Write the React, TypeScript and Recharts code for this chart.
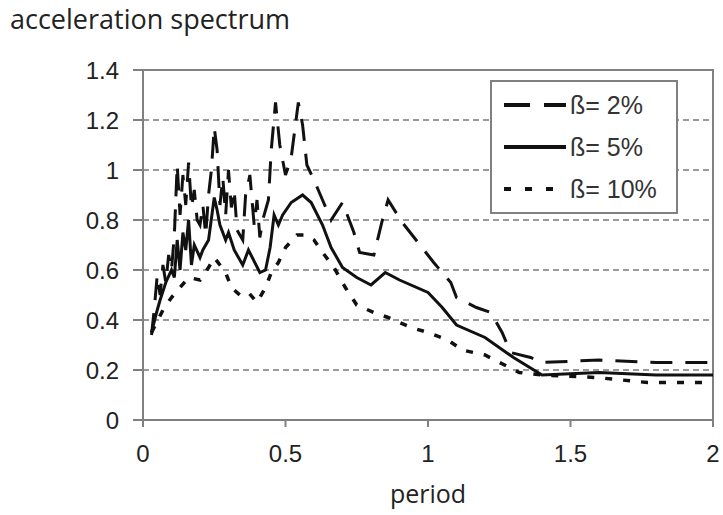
import {
  LineChart,
  Line,
  XAxis,
  YAxis,
  CartesianGrid,
  ReferenceArea,
  Legend,
} from "recharts";

type Pt = { period: number; acc: number };

// [period, acceleration]
const damping2: [number, number][] = [
  [0.03, 0.34], [0.04, 0.45], [0.05, 0.58], [0.06, 0.5], [0.07, 0.62],
  [0.08, 0.55], [0.09, 0.66], [0.1, 0.6], [0.11, 0.74], [0.12, 1.02],
  [0.13, 0.82], [0.14, 0.98], [0.15, 0.86], [0.16, 1.03], [0.17, 0.85],
  [0.18, 0.92], [0.19, 0.8], [0.2, 0.78], [0.21, 0.86], [0.22, 0.74],
  [0.23, 0.9], [0.24, 1.0], [0.25, 1.17], [0.26, 1.08], [0.27, 0.86],
  [0.28, 0.97], [0.29, 0.82], [0.3, 1.0], [0.31, 0.85], [0.32, 0.92],
  [0.33, 0.76], [0.35, 0.72], [0.36, 0.9], [0.375, 0.98], [0.39, 0.78],
  [0.4, 0.88], [0.41, 0.73], [0.42, 0.8], [0.44, 0.88], [0.45, 1.08],
  [0.465, 1.27], [0.48, 1.1], [0.5, 0.98], [0.52, 1.05], [0.545, 1.27],
  [0.56, 1.18], [0.575, 1.02], [0.6, 0.96], [0.63, 0.88], [0.66, 0.8],
  [0.7, 0.87], [0.74, 0.75], [0.76, 0.67], [0.81, 0.66], [0.84, 0.8],
  [0.86, 0.88], [0.91, 0.79], [1.02, 0.63], [1.08, 0.55], [1.1, 0.49],
  [1.17, 0.45], [1.22, 0.43], [1.26, 0.35], [1.29, 0.27], [1.36, 0.25],
  [1.4, 0.23], [1.6, 0.24], [1.8, 0.23], [2.0, 0.23],
];

const damping5: [number, number][] = [
  [0.03, 0.35], [0.05, 0.44], [0.06, 0.48], [0.08, 0.55], [0.1, 0.6],
  [0.11, 0.57], [0.12, 0.72], [0.13, 0.6], [0.14, 0.75], [0.15, 0.68],
  [0.16, 0.8], [0.17, 0.62], [0.18, 0.7], [0.2, 0.65], [0.21, 0.68],
  [0.23, 0.72], [0.25, 0.89], [0.26, 0.84], [0.27, 0.78], [0.29, 0.72],
  [0.3, 0.75], [0.32, 0.68], [0.35, 0.62], [0.37, 0.68], [0.41, 0.59],
  [0.43, 0.6], [0.446, 0.69], [0.46, 0.82], [0.475, 0.78], [0.49, 0.82],
  [0.52, 0.87], [0.56, 0.9], [0.59, 0.87], [0.63, 0.78], [0.66, 0.69],
  [0.7, 0.61], [0.75, 0.57], [0.8, 0.54], [0.85, 0.59], [0.9, 0.56],
  [1.0, 0.51], [1.05, 0.45], [1.1, 0.38], [1.2, 0.33], [1.3, 0.25],
  [1.4, 0.18], [1.6, 0.19], [1.8, 0.18], [2.0, 0.18],
];

const damping10: [number, number][] = [
  [0.03, 0.35], [0.07, 0.44], [0.1, 0.49], [0.13, 0.53], [0.16, 0.57],
  [0.2, 0.56], [0.23, 0.61], [0.25, 0.65], [0.29, 0.59], [0.31, 0.53],
  [0.34, 0.5], [0.37, 0.51], [0.4, 0.47], [0.43, 0.53], [0.45, 0.59],
  [0.475, 0.63], [0.5, 0.69], [0.54, 0.74], [0.57, 0.74], [0.6, 0.72],
  [0.63, 0.67], [0.67, 0.61], [0.71, 0.53], [0.75, 0.46], [0.81, 0.43],
  [0.86, 0.41], [0.94, 0.37], [1.0, 0.35], [1.07, 0.32], [1.12, 0.28],
  [1.2, 0.26], [1.32, 0.19], [1.4, 0.18], [1.59, 0.17], [1.77, 0.15],
  [2.0, 0.15],
];

const xTicks = [0, 0.5, 1, 1.5, 2];
const yTicks = [0, 0.2, 0.4, 0.6, 0.8, 1, 1.2, 1.4];

const seriesNames = ["ß= 2%", "ß= 5%", "ß= 10%"];
const seriesDash = ["22 13", "", "7 11"];

const toPts = (arr: [number, number][]): Pt[] =>
  arr.map(([period, acc]) => ({ period, acc }));

const AXIS = "#808080";
const TICK_FONT = { fontFamily: "Liberation Sans, Arial, sans-serif", fontSize: 24, fill: "#222" };

function LegendBox() {
  return (
    <div
      style={{
        border: `2px solid ${AXIS}`,
        background: "#fff",
        width: 184,
        height: 128,
        boxSizing: "content-box",
        paddingTop: 2,
      }}
    >
      {seriesNames.map((name, i) => (
        <div
          key={name}
          style={{ display: "flex", alignItems: "center", height: 42, paddingLeft: 12 }}
        >
          <svg width={64} height={10}>
            <line
              x1={0}
              y1={5}
              x2={62}
              y2={5}
              stroke="#111"
              strokeWidth={4}
              strokeDasharray={i === 0 ? "26 14" : i === 2 ? "7 14" : undefined}
            />
          </svg>
          <span style={{ ...TICK_FONT, fontSize: 25, color: "#333", marginLeft: 2 }}>{name}</span>
        </div>
      ))}
    </div>
  );
}

export default function App() {
  const sets = [toPts(damping2), toPts(damping5), toPts(damping10)];
  return (
    <div style={{ position: "relative", width: 723, height: 515 }}>
      <style>{"body{margin:0}"}</style>
      <div
        style={{
          position: "absolute",
          left: 10,
          top: 0,
          fontFamily: "Open Sans, sans-serif",
          fontSize: 27,
          color: "#222",
        }}
      >
        acceleration spectrum
      </div>
      <LineChart width={723} height={515} margin={{ top: 70, right: 10, bottom: 0, left: 0 }}>
        <CartesianGrid
          horizontal
          vertical={false}
          stroke="#7a7a7a"
          strokeWidth={1.5}
          strokeDasharray="6 4"
        />
        <XAxis
          type="number"
          dataKey="period"
          domain={[0, 2]}
          ticks={xTicks}
          height={95}
          tickSize={7}
          tickMargin={18}
          stroke={AXIS}
          strokeWidth={2}
          tick={TICK_FONT}
          allowDuplicatedCategory={false}
          label={{
            value: "period",
            position: "insideBottom",
            offset: 12,
            style: { fontFamily: "Open Sans, sans-serif", fontSize: 25, fill: "#222" },
          }}
        />
        <YAxis
          type="number"
          dataKey="acc"
          domain={[0, 1.4]}
          ticks={yTicks}
          width={143}
          tickSize={10}
          tickMargin={14}
          stroke={AXIS}
          strokeWidth={2}
          tick={TICK_FONT}
        />
        <ReferenceArea x1={0} x2={2} y1={0} y2={1.4} fill="none" stroke={AXIS} strokeWidth={2} />
        {sets.map((pts, i) => (
          <Line
            key={seriesNames[i]}
            data={pts}
            dataKey="acc"
            name={seriesNames[i]}
            type="linear"
            stroke="#111"
            strokeWidth={i === 2 ? 3.5 : 3}
            strokeDasharray={seriesDash[i] || undefined}
            dot={false}
            activeDot={false}
            isAnimationActive={false}
          />
        ))}
        <Legend
          layout="vertical"
          align="center"
          verticalAlign="middle"
          wrapperStyle={{ left: 490, top: 80, width: 188 }}
          content={() => <LegendBox />}
        />
      </LineChart>
    </div>
  );
}
